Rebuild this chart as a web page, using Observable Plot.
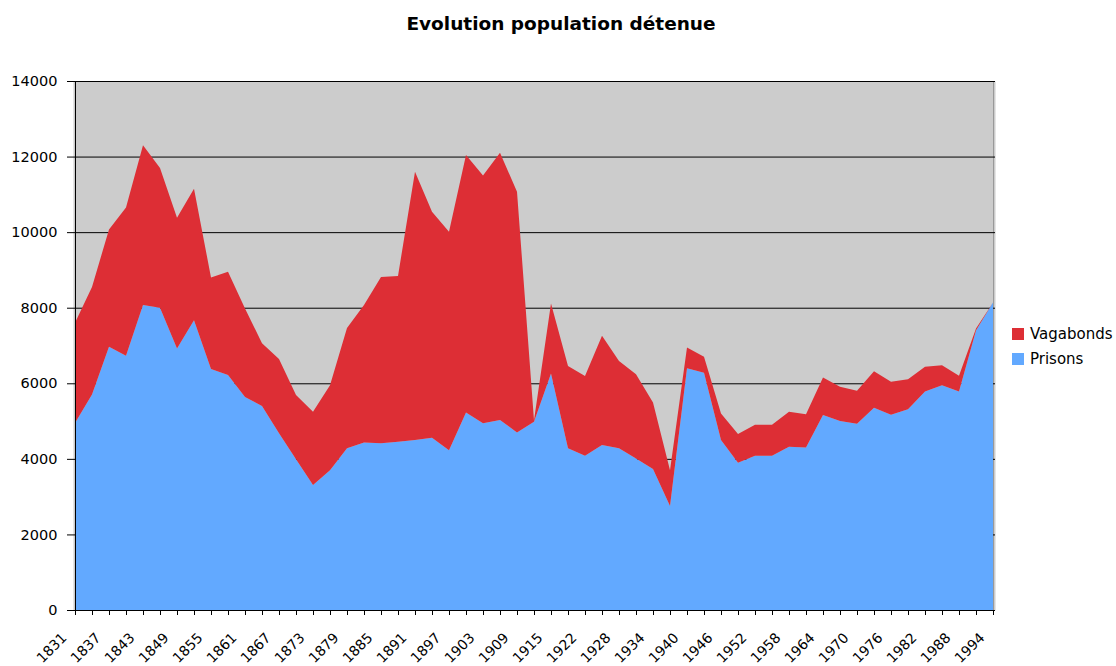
<!DOCTYPE html>
<html>
<head>
<meta charset="utf-8">
<script src="https://cdn.jsdelivr.net/npm/d3@7"></script>
<script src="https://cdn.jsdelivr.net/npm/@observablehq/plot@0.6"></script>
<style>
  html, body { margin: 0; padding: 0; background: #fff; }
  body { width: 1116px; height: 666px; position: relative; font-family: "DejaVu Sans", Verdana, sans-serif; }
  #title { height: 50px; line-height: 48px; text-align: center; font-weight: bold; font-size: 18.5px; color: #000; padding-left: 6px; }
  #legend { position: absolute; left: 1012px; top: 322px; font-size: 15px; color: #000; }
  #legend .item { display: flex; align-items: center; height: 24.5px; }
  #legend .sw { width: 12px; height: 12px; margin-right: 6px; }
</style>
</head>
<body>
<div id="title">Evolution population détenue</div>
<div id="chart"></div>
<div id="legend"></div>
<script>
const years = [1831,1834,1837,1840,1843,1846,1849,1852,1855,1858,1861,1864,1867,1870,1873,1876,1879,1882,1885,1888,1891,1894,1897,1900,1903,1906,1909,1912,1915,1919,1922,1925,1928,1931,1934,1937,1940,1943,1946,1949,1952,1955,1958,1961,1964,1967,1970,1973,1976,1979,1982,1985,1988,1991,1994];
const prisons = [4950,5700,6970,6730,8070,8000,6920,7670,6380,6220,5640,5400,4680,3990,3310,3700,4280,4430,4410,4450,4500,4560,4230,5230,4940,5030,4700,4980,6260,4280,4080,4370,4280,4010,3730,2750,6400,6280,4500,3900,4080,4080,4320,4300,5160,5000,4930,5350,5170,5310,5780,5950,5780,7400,8140];
const vagabonds = [2650,2850,3100,3920,4230,3700,3460,3480,2420,2730,2340,1660,1960,1700,1940,2250,3180,3640,4400,4390,7100,5980,5780,6810,6560,7070,6370,40,1850,2180,2110,2890,2310,2230,1760,950,550,420,700,760,820,820,930,880,990,910,870,970,870,800,660,530,420,50,0];
const seriesNames = ["Vagabonds", "Prisons"];
const seriesColors = ["#dd2e35", "#62a9ff"];
const yTicks = [0,2000,4000,6000,8000,10000,12000,14000];
const labeledYears = years.filter((_, i) => i % 2 === 0);

const rows = [];
years.forEach((y, i) => {
  rows.push({year: y, series: "Prisons", value: prisons[i]});
  rows.push({year: y, series: "Vagabonds", value: vagabonds[i]});
});

const chart = Plot.plot({
  width: 1116,
  height: 616,
  marginTop: 31,
  marginBottom: 56,
  marginLeft: 73,
  marginRight: 121,
  style: {fontFamily: "DejaVu Sans, Verdana, sans-serif", fontSize: "14px", color: "#000", background: "transparent"},
  x: {type: "point", domain: years, padding: 0},
  y: {domain: [0, 14000]},
  color: {domain: seriesNames, range: seriesColors},
  marks: [
    Plot.frame({fill: "#cccccc"}),
    Plot.ruleX([years[years.length - 1]], {stroke: "#999999"}),
    Plot.ruleY(yTicks.slice(1), {stroke: "#000", strokeWidth: 1}),
    Plot.areaY(rows, {x: "year", y: "value", fill: "series", order: ["Prisons", "Vagabonds"]}),
    Plot.ruleY([0], {stroke: "#000"}),
    Plot.ruleX([years[0]], {stroke: "#000"}),
    Plot.axisY(yTicks, {tickSize: 6, tickPadding: 10, tickFormat: d => String(d), fontSize: 14.5, label: null, stroke: "#000"}),
    Plot.axisX(years, {tickSize: 5, tickFormat: () => "", label: null, stroke: "#000"}),
    Plot.axisX(labeledYears, {tickSize: 0, tickPadding: 8, tickRotate: -45, tickFormat: d => String(d), fontSize: 14, label: null, dx: -11, dy: 17})
  ]
});
document.getElementById("chart").appendChild(chart);

const legend = document.getElementById("legend");
seriesNames.forEach((name, i) => {
  const item = document.createElement("div");
  item.className = "item";
  const sw = document.createElement("div");
  sw.className = "sw";
  sw.style.background = seriesColors[i];
  const label = document.createElement("span");
  label.textContent = name;
  item.appendChild(sw);
  item.appendChild(label);
  legend.appendChild(item);
});
</script>
</body>
</html>
